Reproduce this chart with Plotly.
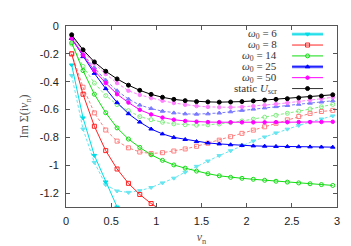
import plotly.graph_objects as go

# Matsubara frequencies (x values)
nu = [0.0628, 0.1885, 0.3142, 0.4398, 0.5655, 0.6912, 0.8168, 0.9425, 1.0681, 1.1938,
      1.3195, 1.4451, 1.5708, 1.6965, 1.8221, 1.9478, 2.0735, 2.1991, 2.3248, 2.4504,
      2.5761, 2.7018, 2.8274, 2.9531]

# solid curves
w6_solid = [-0.28, -0.66, -0.93, -1.12, -1.30, -1.45]
w8_solid = [-0.20, -0.49, -0.72, -0.895, -1.027, -1.13, -1.21, -1.275, -1.33]
w14_solid = [-0.12, -0.32, -0.49, -0.623, -0.732, -0.812, -0.872, -0.925, -0.965, -0.998,
             -1.021, -1.042, -1.061, -1.076, -1.087, -1.094, -1.101, -1.108, -1.115, -1.121,
             -1.127, -1.133, -1.139, -1.145]
w25_solid = [-0.09, -0.22, -0.34, -0.45, -0.55, -0.63, -0.69, -0.74, -0.775, -0.80,
             -0.815, -0.83, -0.84, -0.847, -0.853, -0.858, -0.861, -0.863, -0.865, -0.866,
             -0.867, -0.868, -0.869, -0.87]
w50_solid = [-0.09, -0.21, -0.32, -0.41, -0.49, -0.55, -0.602, -0.635, -0.658, -0.673,
             -0.682, -0.687, -0.69, -0.691, -0.692, -0.692, -0.692, -0.692, -0.691, -0.691,
             -0.69, -0.69, -0.689, -0.688]
static_scr = [-0.063, -0.171, -0.258, -0.325, -0.380, -0.425, -0.462, -0.491, -0.512, -0.527,
              -0.536, -0.543, -0.545, -0.547, -0.546, -0.543, -0.538, -0.532, -0.527, -0.522,
              -0.516, -0.510, -0.503, -0.494]

# dashed curves
w6_dash = [-0.355, -0.74, -0.98, -1.14, -1.185, -1.195, -1.183, -1.16, -1.127, -1.093,
           -1.05, -1.008, -0.97, -0.931, -0.896, -0.857, -0.826, -0.797, -0.768, -0.741,
           -0.714, -0.69, -0.668, -0.646]
w8_dash = [-0.20, -0.44, -0.624, -0.747, -0.827, -0.875, -0.905, -0.916, -0.91, -0.898,
           -0.883, -0.864, -0.842, -0.82, -0.795, -0.771, -0.748, -0.724, -0.699, -0.674,
           -0.65, -0.628, -0.614, -0.606]
w14_dash = [-0.13, -0.29, -0.41, -0.50, -0.565, -0.608, -0.651, -0.673, -0.691, -0.703,
            -0.709, -0.712, -0.71, -0.704, -0.694, -0.682, -0.669, -0.655, -0.641, -0.627,
            -0.612, -0.596, -0.58, -0.563]
w25_dash = [-0.09, -0.20, -0.30, -0.39, -0.465, -0.525, -0.568, -0.593, -0.612, -0.624,
            -0.631, -0.633, -0.631, -0.625, -0.616, -0.606, -0.597, -0.588, -0.579, -0.571,
            -0.562, -0.554, -0.546, -0.537]
w50_dash = [-0.075, -0.18, -0.27, -0.345, -0.41, -0.465, -0.495, -0.518, -0.537, -0.553,
            -0.566, -0.575, -0.581, -0.584, -0.584, -0.581, -0.576, -0.569, -0.561, -0.552,
            -0.543, -0.533, -0.523, -0.512]

labels = ["<i>ω</i><sub>0</sub> = 6", "<i>ω</i><sub>0</sub> = 8", "<i>ω</i><sub>0</sub> = 14",
          "<i>ω</i><sub>0</sub> = 25", "<i>ω</i><sub>0</sub> = 50", "static <i>U</i><sub>scr</sub>"]
x_ticks = [0, 0.5, 1, 1.5, 2, 2.5, 3]
x_ticktext = ["0", "0.5", "1", "1.5", "2", "2.5", "3"]
y_ticks = [0, -0.2, -0.4, -0.6, -0.8, -1, -1.2]
y_ticktext = ["0", "-0.2", "-0.4", "-0.6", "-0.8", "-1", "-1.2"]

solid = [w6_solid, w8_solid, w14_solid, w25_solid, w50_solid, static_scr]
dashed = [w6_dash, w8_dash, w14_dash, w25_dash, w50_dash, None]
dark = ["#00dde6", "#ff2020", "#11dd11", "#0000ff", "#ff00ff", "#000000"]
light = ["#66e6f0", "#ff8080", "#80ee80", "#7a7aff", "#ff80ff", "#000000"]
symbols = ["triangle-down", "square-open", "circle-open", "triangle-up", "circle", "circle"]
msize = [4, 4, 4, 4, 3.5, 4]

fig = go.Figure()
for i in range(6):
    if dashed[i] is not None:
        fig.add_trace(go.Scatter(x=nu[:len(dashed[i])], y=dashed[i], mode="lines+markers",
                                 line=dict(color=light[i], width=1, dash="3px,2px"),
                                 marker=dict(symbol=symbols[i], size=msize[i], color=light[i],
                                             line=dict(color=light[i], width=1)),
                                 showlegend=False, cliponaxis=True))
for i in range(6):
    fig.add_trace(go.Scatter(x=nu[:len(solid[i])], y=solid[i], mode="lines+markers",
                             line=dict(color=dark[i], width=1),
                             marker=dict(symbol=symbols[i], size=msize[i], color=dark[i],
                                         line=dict(color=dark[i], width=1)),
                             showlegend=False, cliponaxis=True))

# legend drawn on a pixel-scaled overlay axis
L = 57.5; R = 329; T = 14; B = 207
leg_x0, leg_x1, leg_xt = 284, 315, 271
leg_y0, leg_dy = 22.7, 11.6
wide = [True, False, False, True, False, False]
for i in range(6):
    yy = leg_y0 + i * leg_dy
    if wide[i]:
        fig.add_trace(go.Scatter(x=[leg_x0, leg_x1], y=[yy, yy], mode="lines",
                                 line=dict(color=light[i], width=3),
                                 xaxis="x2", yaxis="y2", showlegend=False, hoverinfo="skip"))
    fig.add_trace(go.Scatter(x=[leg_x0, leg_x1], y=[yy, yy], mode="lines",
                             line=dict(color=dark[i] if i < 5 else "#333333", width=1),
                             xaxis="x2", yaxis="y2", showlegend=False, hoverinfo="skip"))
    fig.add_trace(go.Scatter(x=[(leg_x0 + leg_x1) / 2], y=[yy], mode="markers",
                             marker=dict(symbol=symbols[i], size=msize[i], color=dark[i],
                                         line=dict(color=dark[i], width=1)),
                             xaxis="x2", yaxis="y2", showlegend=False, hoverinfo="skip"))
    fig.add_annotation(x=leg_xt, y=yy, xref="x2", yref="y2", text=labels[i],
                       showarrow=False, xanchor="right", yanchor="middle",
                       font=dict(family="Liberation Serif", size=11, color="#333333"))

axis_common = dict(showgrid=False, zeroline=False, showline=True, linecolor="#555555",
                   linewidth=1, mirror="allticks", ticks="inside", ticklen=4,
                   tickcolor="#555555", tickfont=dict(family="Liberation Sans", size=11, color="#222222"))

fig.update_layout(
    width=351, height=246,
    margin=dict(l=L, r=351 - R, t=T, b=246 - B),
    paper_bgcolor="white", plot_bgcolor="white",
    showlegend=False,
    xaxis=dict(range=[0, 3], tickvals=x_ticks, ticktext=x_ticktext, ticklabelstandoff=4,
               title=dict(text="<i>ν</i><sub>n</sub>", standoff=6,
                          font=dict(family="Liberation Serif", size=12, color="#555555")),
               **axis_common),
    yaxis=dict(range=[-1.3, 0], tickvals=y_ticks, ticktext=y_ticktext, ticklabelstandoff=4,
               title=dict(text="Im Σ(i<i>ν</i><sub>n</sub>)", standoff=8,
                          font=dict(family="Liberation Serif", size=12, color="#555555")),
               **axis_common),
    xaxis2=dict(range=[L, R], overlaying="x", visible=False, fixedrange=True),
    yaxis2=dict(range=[B, T], overlaying="y", visible=False, fixedrange=True),
)

fig.write_html("out.html")
